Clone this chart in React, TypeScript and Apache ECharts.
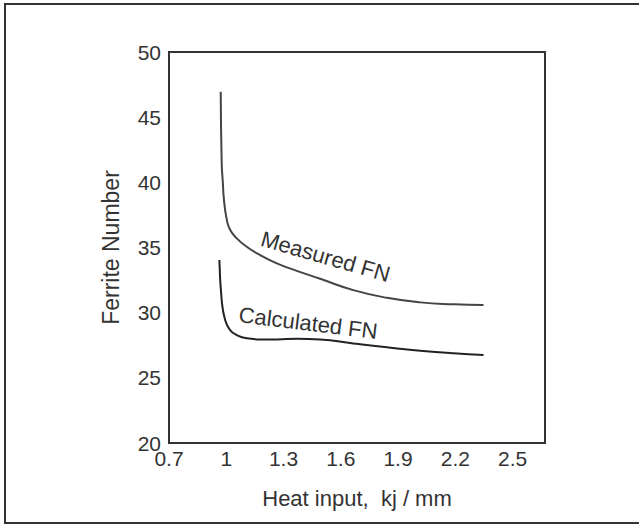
import React, { useEffect, useRef } from "react";
import * as echarts from "echarts";

const measuredX = [0.971, 0.976, 0.982, 0.988, 1.003, 1.02, 1.055, 1.107, 1.177, 1.265, 1.352, 1.439, 1.492, 1.666, 1.842, 2.016, 2.191, 2.348];
const measuredY = [46.95, 41.5, 40.0, 38.65, 37.12, 36.36, 35.7, 35.06, 34.42, 33.78, 33.3, 32.86, 32.6, 31.73, 31.14, 30.79, 30.64, 30.58];
const calcX = [0.964, 0.976, 0.994, 1.02, 1.055, 1.107, 1.177, 1.265, 1.37, 1.492, 1.666, 1.842, 2.016, 2.191, 2.348];
const calcY = [34.04, 30.97, 29.43, 28.66, 28.28, 28.03, 27.95, 27.95, 28.0, 27.95, 27.64, 27.34, 27.08, 26.88, 26.75];
const xTicks = [0.7, 1, 1.3, 1.6, 1.9, 2.2, 2.5];
const yTicks = [20, 25, 30, 35, 40, 45, 50];
const labels = [
  { text: "Measured FN", x: 1.52, y: 34.3, angle: 16 },
  { text: "Calculated FN", x: 1.429, y: 29.2, angle: 7 },
];

const FONT = "'Liberation Sans', Arial, sans-serif";

export default function App() {
  const ref = useRef<HTMLDivElement>(null);
  useEffect(() => {
    if (!ref.current) return;
    const chart = echarts.init(ref.current, null, { renderer: "svg" });
    chart.setOption({
      animation: false,
      backgroundColor: "#ffffff",
      grid: {
        left: 169,
        right: 94,
        top: 52,
        bottom: 83,
        show: true,
        borderColor: "#333",
        borderWidth: 2,
        backgroundColor: "transparent",
        containLabel: false,
        outerBoundsMode: "none",
      },
      xAxis: {
        type: "value",
        min: 0.7,
        max: 2.67,
        interval: 0.1,
        splitLine: { show: false },
        axisTick: { show: false },
        axisLine: { show: true, lineStyle: { color: "#333", width: 2 } },
        axisLabel: {
          color: "#333",
          fontSize: 21,
          fontFamily: FONT,
          margin: 5,
          showMaxLabel: true,
          formatter: (v: number) => {
            const t = xTicks.find((k) => Math.abs(k - v) < 1e-6);
            return t === undefined ? "" : String(t);
          },
        },
        name: "Heat input,  kj / mm",
        nameLocation: "middle",
        nameGap: 44,
        nameTextStyle: { color: "#333", fontSize: 22, fontFamily: FONT },
      },
      yAxis: {
        type: "value",
        min: 20,
        max: 50,
        interval: 5,
        splitLine: { show: false },
        axisTick: { show: false },
        axisLine: { show: true, lineStyle: { color: "#333", width: 2 } },
        axisLabel: {
          color: "#333",
          fontSize: 21,
          fontFamily: FONT,
          margin: 8,
          formatter: (v: number) => (yTicks.includes(v) ? String(v) : ""),
        },
        name: "Ferrite Number",
        nameLocation: "middle",
        nameGap: 47,
        nameTextStyle: { color: "#333", fontSize: 23, fontFamily: FONT },
      },
      series: [
        {
          type: "line",
          name: "Measured FN",
          data: measuredX.map((x, i) => [x, measuredY[i]]),
          showSymbol: false,
          smooth: 0.5,
          lineStyle: { color: "#444", width: 2 },
        },
        {
          type: "line",
          name: "Calculated FN",
          data: calcX.map((x, i) => [x, calcY[i]]),
          showSymbol: false,
          smooth: 0.5,
          lineStyle: { color: "#222", width: 2 },
        },
      ],
    });
    const texts = labels.map((l) => {
      const p = chart.convertToPixel({ gridIndex: 0 }, [l.x, l.y]) as number[];
      return {
        type: "text",
        x: p[0],
        y: p[1],
        rotation: (-l.angle * Math.PI) / 180,
        style: {
          text: l.text,
          fill: "#333",
          font: `22px ${FONT}`,
          align: "center",
          verticalAlign: "middle",
        },
      };
    });
    chart.setOption({
      graphic: [
        {
          type: "rect",
          shape: { x: 5, y: 4, width: 640, height: 519 },
          style: { fill: "none", stroke: "#333", lineWidth: 2 },
          silent: true,
        },
        ...texts,
      ],
    });
    return () => chart.dispose();
  }, []);
  return (
    <div
      ref={ref}
      style={{ position: "fixed", left: 0, top: 0, width: 639, height: 526 }}
    />
  );
}
